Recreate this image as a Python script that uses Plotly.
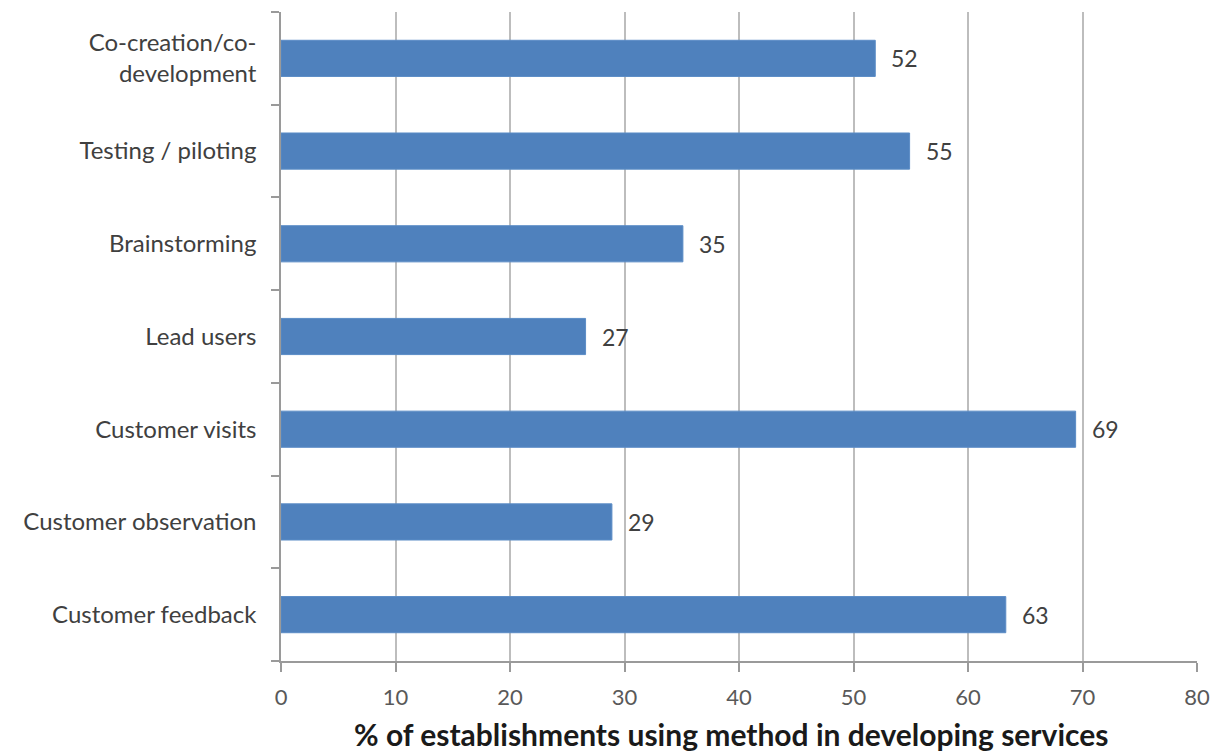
import plotly.graph_objects as go

categories = ["Customer feedback", "Customer observation", "Customer visits", "Lead users",
              "Brainstorming", "Testing / piloting", "Co-creation/co-<br>development"]
values = [63.3, 28.9, 69.4, 26.6, 35.1, 54.9, 51.9]
labels = ["63", "29", "69", "27", "35", "55", "52"]
x_ticks = [0, 10, 20, 30, 40, 50, 60, 70, 80]
x_title = "% of establishments using method in developing services"

FONT = "Lato"
BAR = "#4F81BD"

fig = go.Figure()
fig.add_trace(go.Bar(
    y=categories, x=values, orientation="h",
    marker=dict(color=BAR, line=dict(color="#5B8CC6", width=1)),
    width=0.39, hoverinfo="skip",
))

for c, v, t in zip(categories, values, labels):
    fig.add_annotation(x=v, y=c, text=t, showarrow=False, xanchor="left",
                       xshift=14, font=dict(family=FONT, size=23, color="#404040"))

fig.add_annotation(xref="paper", yref="paper", x=0.5, y=0, xanchor="center",
                   yanchor="middle", xshift=-8, yshift=-73, showarrow=False,
                   text="<b>" + x_title + "</b>",
                   font=dict(family=FONT, size=30, color="#1a1a1a"))

fig.update_layout(
    width=1214, height=753,
    margin=dict(l=281, r=17, t=12, b=92),
    paper_bgcolor="white", plot_bgcolor="white",
    showlegend=False,
    font=dict(family=FONT, size=20, color="#404040"),
    xaxis=dict(
        range=[0, 80], tickvals=x_ticks, ticktext=[str(v) for v in x_ticks],
        showgrid=True, gridcolor="#BDBDBD", gridwidth=1.5,
        showline=True, linecolor="#9A9A9A", linewidth=1.5,
        ticks="outside", ticklen=9, tickcolor="#9A9A9A", tickwidth=1.5,
        tickfont=dict(family=FONT, size=22, color="#595959"),
        ticklabelstandoff=7,
        zeroline=False, fixedrange=True, automargin=False,
    ),
    yaxis=dict(
        type="category", categoryorder="array", categoryarray=categories,
        range=[-0.5, 6.5], tickson="boundaries",
        showgrid=False, showline=True, linecolor="#9A9A9A", linewidth=1.5,
        ticks="outside", ticklen=8, tickcolor="#9A9A9A", tickwidth=1.5,
        tickfont=dict(family=FONT, size=24, color="#404040"),
        ticklabelstandoff=18, fixedrange=True, automargin=False,
    ),
)

fig.write_html("out.html")
